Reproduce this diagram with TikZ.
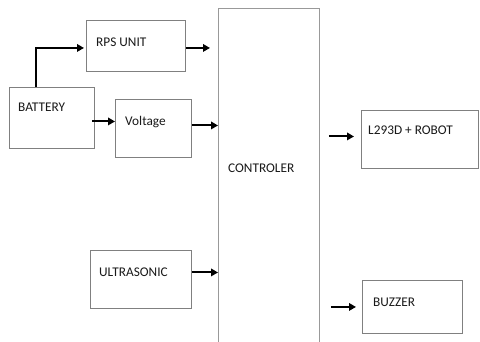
\documentclass[tikz,border=0pt]{standalone}
\usepackage{fontspec}
\setmainfont{Carlito}
\usetikzlibrary{arrows.meta}
\begin{document}
\begin{tikzpicture}[x=1pt,y=-1pt,
  box/.style={draw=black!50,line width=0.9pt,inner sep=0pt,anchor=north west},
  lbl/.style={anchor=base west,inner sep=0pt,text=black!90,font=\fontsize{13.3}{16}\selectfont},
  arr/.style={line width=2pt,-{Triangle[length=7pt,width=7.5pt]}}]
\useasboundingbox (0,0) rectangle (480,341);
\fill[white] (0,0) rectangle (480,341);
% boxes
\node[box,minimum width=99pt,minimum height=51pt] (rps) at (86,20) {};
\node[box,minimum width=85pt,minimum height=61pt] (bat) at (9,87) {};
\node[box,minimum width=76pt,minimum height=58pt] (volt) at (115,99) {};
\node[box,draw=black!40,minimum width=101pt,minimum height=340pt] (ctrl) at (218,8) {};
\node[box,minimum width=117pt,minimum height=58pt] (robot) at (361,110) {};
\node[box,minimum width=101pt,minimum height=58pt] (ultra) at (90,250) {};
\node[box,minimum width=100pt,minimum height=53pt] (buzz) at (362,280) {};
% texts
\node[lbl] (trps) at (96,46) {RPS UNIT};
\node[lbl] (tbat) at (18,111) {BATTERY};
\node[lbl] (tvolt) at (125,125) {Voltage};
\node[lbl] (tctrl) at (228,172) {CONTROLER};
\node[lbl] (trobot) at (368,134) {L293D + ROBOT};
\node[lbl] (tultra) at (99,276) {ULTRASONIC};
\node[lbl] (tbuzz) at (373,306) {BUZZER};
% connectors
\draw[arr,shorten >=2pt] ([xshift=27pt]bat.north west) |- ([yshift=-2pt]rps.west);
\draw[arr,shorten >=8pt] ([yshift=-2pt]rps.east) -- ([yshift=-2pt]rps.east -| ctrl.west);
\draw[arr,shorten <=-3pt] ([yshift=-3.5pt]bat.east) -- ([yshift=-3.5pt]bat.east -| volt.west);
\draw[arr] ([yshift=3pt]volt.east) -- ([yshift=3pt]volt.east -| ctrl.west);
\draw[arr] ([yshift=7pt]ultra.east) -- ([yshift=7pt]ultra.east -| ctrl.west);
\draw[arr,shorten <=9pt,shorten >=7pt] ([yshift=3pt]robot.west -| ctrl.east) -- ([yshift=3pt]robot.west);
\draw[arr,shorten <=11pt,shorten >=6pt] (buzz.west -| ctrl.east) -- (buzz.west);
\end{tikzpicture}
\end{document}
